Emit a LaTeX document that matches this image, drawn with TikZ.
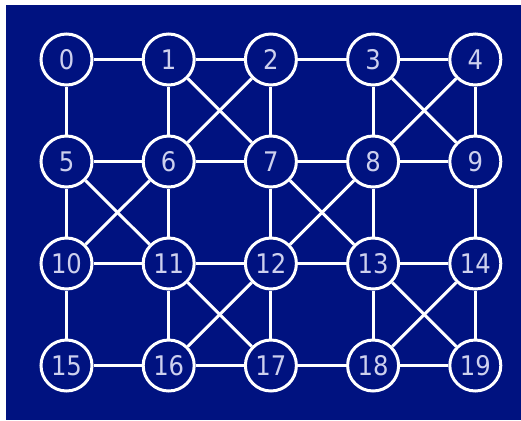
\documentclass[tikz,border=0pt]{standalone}
\usepackage{fontspec}
\newfontfamily\numfont{DejaVu Sans Condensed}
\definecolor{bgblue}{RGB}{0,18,128}
\definecolor{labelcol}{RGB}{205,208,238}
\begin{document}
\begin{tikzpicture}[x=1pt,y=-1pt,
  vertex/.style={circle,draw=white,line width=3pt,fill=bgblue,minimum size=51pt,inner sep=0pt,
    font=\numfont\fontsize{27}{27}\selectfont,text=labelcol},
  link/.style={draw=white,line width=3pt}]
\useasboundingbox (0,0) rectangle (521,420);
\fill[white] (0,0) rectangle (521,420);
\fill[bgblue] (6,5) rectangle (521,420);
\foreach \r in {0,1,2,3}{
  \foreach \c in {0,1,2,3,4}{
    \pgfmathtruncatemacro{\n}{\r*5+\c}
    \node[vertex] (n\n) at ({66.5+102.2*\c},{59.5+102*\r}) {\n};
  }
}
% horizontals
\foreach \a/\b in {0/1,1/2,2/3,3/4,5/6,6/7,7/8,8/9,10/11,11/12,12/13,13/14,15/16,16/17,17/18,18/19}
  \draw[link] (n\a) -- (n\b);
% verticals
\foreach \a/\b in {0/5,1/6,2/7,3/8,4/9,5/10,6/11,7/12,8/13,9/14,10/15,11/16,12/17,13/18,14/19}
  \draw[link] (n\a) -- (n\b);
% diagonals
\foreach \a/\b in {1/7,2/6,3/9,4/8,5/11,6/10,7/13,8/12,11/17,12/16,13/19,14/18}
  \draw[link] (n\a) -- (n\b);
\end{tikzpicture}
\end{document}
